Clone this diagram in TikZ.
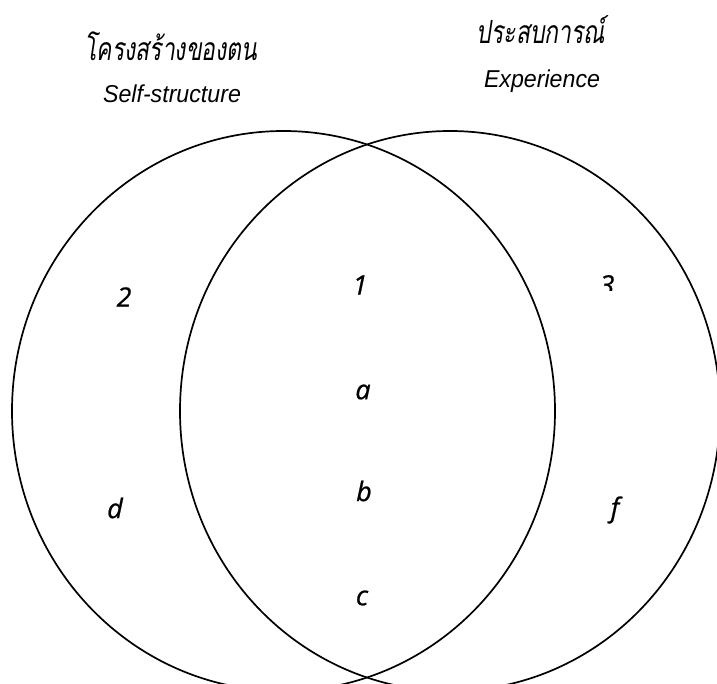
\documentclass[tikz,border=0pt]{standalone}
\usepackage{fontspec}
\usetikzlibrary{positioning}
\newfontfamily\thaifont[Script=Thai, FakeSlant=0.15, FakeStretch=0.72]{Loma}
\newfontfamily\narrowsans[FakeStretch=0.95]{Liberation Sans}
\newfontfamily\handfont[FakeBold=0.8]{Open Sans}

\begin{document}
\begin{tikzpicture}[
    x=1bp, y=-1bp,
    ring/.style={line width=1.7bp},
    thaititle/.style={font=\thaifont\fontsize{32}{36}\selectfont, inner sep=0pt},
    entitle/.style={font=\narrowsans\itshape\fontsize{24.5}{28}\selectfont, inner sep=0pt},
    region/.style={font=\handfont\itshape\fontsize{27}{30}\selectfont, inner sep=0pt},
]
\useasboundingbox (0,0) rectangle (717,684);
\clip (0,0) rectangle (717,684);

% the two sets
\draw[ring] (283.5,411) ellipse [x radius=271.5, y radius=280];
\draw[ring] (450,411) ellipse [x radius=270, y radius=280];

% titles
\node[thaititle] (selfth) at (171,46) {โครงสร้างของตน};
\node[entitle] (selfen) at (172,94) {Self-structure};
\node[thaititle] (expth) at (541,30) {ประสบการณ์};
\node[entitle] (expen) at (542,81) {Experience};

% regions
\node[region] (two) at (124,297) {2};
\node[region] (one) at (360,285) {1};
\begin{scope}
  \clip (560,250) rectangle (660,290);
  \node[region] (three) at (607,285) {3};
\end{scope}
\node[region] (a) at (363,392) {a};
\node[region] (b) at (364,491) {b};
\node[region] (c) at (362,598) {c};
\node[region] (d) at (115,508) {d};
\node[region] (f) at (615,510) {f};
\end{tikzpicture}
\end{document}
